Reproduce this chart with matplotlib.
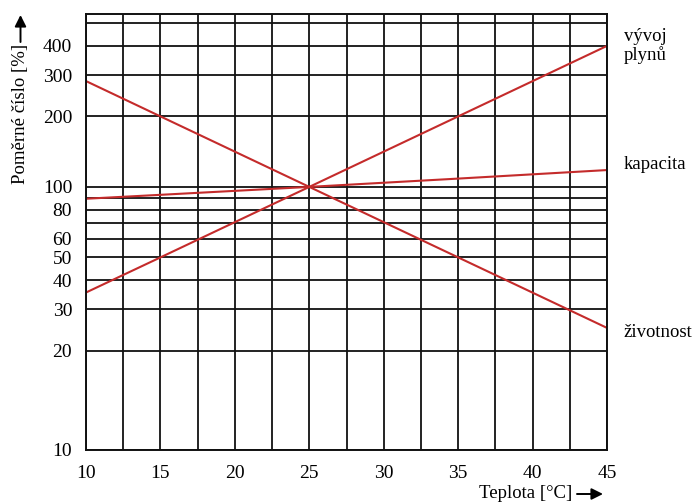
import numpy as np
import matplotlib
matplotlib.use("Agg")
import matplotlib.pyplot as plt

# data
teplota = [10, 15, 25, 35, 45]
vyvoj_plynu = [35.4, 50, 100, 200, 400]
kapacita = [89, 92.5, 100, 108.5, 118]
zivotnost = [283, 200, 100, 50, 25]

y_grid = [10, 20, 30, 40, 50, 60, 70, 80, 90, 100, 200, 300, 400, 500]
y_labels = ["10", "20", "30", "40", "50", "60", "", "80", "", "100", "200", "300", "400", ""]
x_major = [10, 15, 20, 25, 30, 35, 40, 45]
x_minor = [12.5, 17.5, 22.5, 27.5, 32.5, 37.5, 42.5]

# the printed scale is logarithmic but stretched below 20
K = 1.41
B = np.log10(20)

def fwd(v):
    v = np.clip(np.asarray(v, dtype=float), 1e-3, None)
    l = np.log10(v)
    return np.where(l >= B, l, B - K * (B - l))

def inv(u):
    u = np.asarray(u, dtype=float)
    return np.where(u >= B, 10 ** u, 10 ** (B - (B - u) / K))

plt.rcParams['font.family'] = ['Liberation Serif', 'DejaVu Serif']
red = '#c42b2b'

fig = plt.figure(figsize=(6.94, 5.03), dpi=100)
ax = fig.add_axes([86 / 694, 1 - 450 / 503, 521 / 694, 436.5 / 503])

ax.set_yscale('function', functions=(fwd, inv))
ax.set_xlim(10, 45)
ax.set_ylim(10, 550)

ax.plot(teplota, vyvoj_plynu, color=red, lw=1.5)
ax.plot(teplota, kapacita, color=red, lw=1.5)
ax.plot(teplota, zivotnost, color=red, lw=1.5)

ax.set_yticks(y_grid, labels=y_labels)
ax.set_yticks([], minor=True)
ax.set_xticks(x_major)
ax.set_xticks(x_minor, minor=True)
ax.grid(True, which='both', color='#111111', lw=1.3)
ax.set_axisbelow(True)
ax.tick_params(which='both', length=0, labelsize=14)
ax.tick_params(axis='y', pad=10)
ax.tick_params(axis='x', pad=11)
for s in ax.spines.values():
    s.set_color('#111111')
    s.set_linewidth(1.4)

ax.annotate("vývoj\nplynů", xy=(45, vyvoj_plynu[-1]), xytext=(12, 0),
            textcoords='offset points', va='center', ha='left', fontsize=13.5,
            linespacing=1.1, annotation_clip=False)
ax.annotate("kapacita", xy=(45, kapacita[-1]), xytext=(12, 4),
            textcoords='offset points', va='center', ha='left', fontsize=13.5,
            annotation_clip=False)
ax.annotate("životnost", xy=(45, zivotnost[-1]), xytext=(12, -3),
            textcoords='offset points', va='center', ha='left', fontsize=13.5,
            annotation_clip=False)

# axis titles with arrows
fig.text(20.5 / 694, 1 - 114 / 503, "Poměrné číslo [%]", rotation=90,
         ha='center', va='center', fontsize=13.5)
fig.add_artist(matplotlib.patches.FancyArrowPatch(
    (20.5 / 694, 1 - 42 / 503), (20.5 / 694, 1 - 15 / 503),
    transform=fig.transFigure, arrowstyle='-|>', mutation_scale=17,
    color='black', lw=1.4, shrinkA=0, shrinkB=0))

fig.text(526 / 694, 1 - 493 / 503, "Teplota [°C]", ha='center', va='center',
         fontsize=13.5)
fig.add_artist(matplotlib.patches.FancyArrowPatch(
    (577 / 694, 1 - 494 / 503), (603 / 694, 1 - 494 / 503),
    transform=fig.transFigure, arrowstyle='-|>', mutation_scale=17,
    color='black', lw=1.4, shrinkA=0, shrinkB=0))

fig.savefig("out.png", dpi=100)
